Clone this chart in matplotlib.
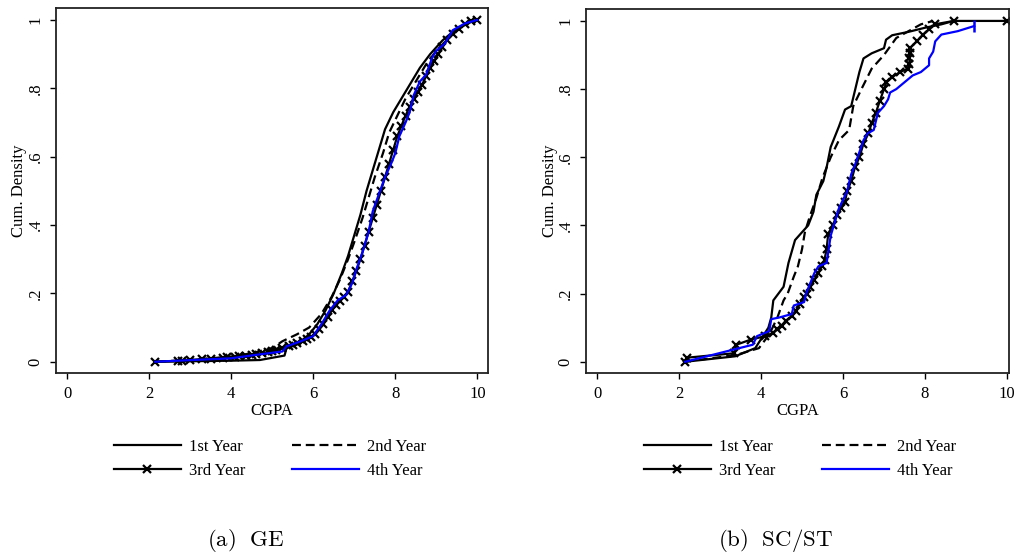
import matplotlib
matplotlib.use("Agg")
import matplotlib.pyplot as plt
from matplotlib.lines import Line2D

plt.rcParams['font.family'] = ['Liberation Serif', 'DejaVu Serif']
plt.rcParams['mathtext.fontset'] = 'cm'

# ---------------- data: GE panel (CGPA, cumulative density) ----------------
ge_y1_x = [2.15, 4.0, 4.7, 5.3, 5.35,
           5.6, 5.9, 6.1, 6.3, 6.5,
           6.7, 6.85, 7.0, 7.15, 7.3,
           7.45, 7.6, 7.75, 7.95, 8.15,
           8.35, 8.6, 8.85, 9.15, 9.45,
           9.75, 10.0]
ge_y1_p = [0.0, 0.003, 0.005, 0.018, 0.04,
           0.05, 0.08, 0.11, 0.15, 0.2,
           0.26, 0.31, 0.37, 0.43, 0.5,
           0.56, 0.62, 0.68, 0.73, 0.77,
           0.81, 0.86, 0.9, 0.94, 0.97,
           0.99, 1.0]

ge_y2_x = [2.2, 3.3, 4.0, 4.5, 5.0,
           5.25, 5.6, 5.9, 6.2, 6.45,
           6.65, 6.85, 7.0, 7.2, 7.35,
           7.5, 7.7, 7.85, 8.05, 8.25,
           8.5, 8.75, 9.0, 9.25, 9.5,
           9.75, 9.9]
ge_y2_p = [0.0, 0.008, 0.015, 0.025, 0.04,
           0.06, 0.08, 0.1, 0.14, 0.19,
           0.24, 0.3, 0.35, 0.42, 0.48,
           0.54, 0.61, 0.67, 0.72, 0.77,
           0.82, 0.87, 0.91, 0.94, 0.97,
           0.99, 1.0]

ge_y3_x = [2.15, 2.7, 2.8, 3.0, 3.3,
           3.5, 3.8, 3.9, 4.1, 4.2,
           4.35, 4.5, 4.6, 4.75, 4.9,
           5.0, 5.1, 5.25, 5.4, 5.5,
           5.6, 5.75, 5.85, 5.95, 6.05,
           6.15, 6.25, 6.35, 6.45, 6.55,
           6.65, 6.75, 6.85, 6.95, 7.05,
           7.15, 7.25, 7.35, 7.45, 7.55,
           7.65, 7.75, 7.85, 7.95, 8.05,
           8.15, 8.25, 8.35, 8.45, 8.55,
           8.65, 8.75, 8.85, 8.95, 9.05,
           9.15, 9.25, 9.4, 9.55, 9.7,
           9.85, 10.0]
ge_y3_p = [0.0, 0.002, 0.003, 0.005, 0.008,
           0.009, 0.012, 0.013, 0.015, 0.016,
           0.018, 0.02, 0.022, 0.025, 0.028,
           0.031, 0.035, 0.04, 0.046, 0.05,
           0.055, 0.062, 0.067, 0.073, 0.08,
           0.095, 0.11, 0.13, 0.15, 0.165,
           0.178, 0.19, 0.205, 0.235, 0.265,
           0.3, 0.34, 0.38, 0.42, 0.46,
           0.5, 0.54, 0.58, 0.62, 0.66,
           0.69, 0.72, 0.745, 0.77, 0.79,
           0.81, 0.835, 0.86, 0.88, 0.9,
           0.92, 0.94, 0.96, 0.975, 0.988,
           0.996, 1.0]

ge_y4_x = [2.15, 4.0, 4.6, 5.25, 5.35,
           5.7, 6.0, 6.2, 6.4, 6.6,
           6.8, 6.95, 7.05, 7.2, 7.35,
           7.45, 7.6, 7.75, 7.9, 8.0,
           8.1, 8.25, 8.35, 8.45, 8.6,
           8.75, 8.9, 9.0, 9.2, 9.4,
           9.7, 10.0]
ge_y4_p = [0.0, 0.01, 0.02, 0.03, 0.045,
           0.06, 0.075, 0.11, 0.15, 0.18,
           0.195, 0.23, 0.27, 0.32, 0.38,
           0.44, 0.49, 0.54, 0.58, 0.61,
           0.66, 0.7, 0.73, 0.78, 0.82,
           0.84, 0.89, 0.91, 0.93, 0.97,
           0.99, 1.0]

# ---------------- data: SC/ST panel ----------------
sc_y1_x = [2.15, 3.37, 3.86, 4.18, 4.25,
           4.3, 4.55, 4.67, 4.83, 5.0,
           5.15, 5.28, 5.35, 5.52, 5.6,
           5.7, 5.9, 6.05, 6.2, 6.3,
           6.4, 6.5, 6.7, 7.0, 7.05,
           7.2, 7.6, 8.0, 8.4, 8.7]
sc_y1_p = [0.0, 0.016, 0.04, 0.1, 0.13,
           0.18, 0.22, 0.29, 0.357, 0.38,
           0.40, 0.44, 0.49, 0.53, 0.57,
           0.63, 0.69, 0.74, 0.75, 0.80,
           0.85, 0.89, 0.905, 0.92, 0.945,
           0.958, 0.968, 0.98, 0.99, 1.0]

sc_y2_x = [2.15, 3.4, 3.95, 4.2, 4.4,
           4.55, 4.65, 4.8, 4.9, 5.0,
           5.07, 5.2, 5.35, 5.5, 5.7,
           5.9, 6.15, 6.25, 6.45, 6.7,
           7.0, 7.3, 7.6, 7.9, 8.2]
sc_y2_p = [0.0, 0.02, 0.04, 0.08, 0.13,
           0.18, 0.2, 0.25, 0.28, 0.33,
           0.38, 0.43, 0.48, 0.54, 0.6,
           0.65, 0.68, 0.75, 0.8, 0.86,
           0.9, 0.95, 0.97, 0.99, 1.0]

sc_y3_x = [2.15, 2.2, 3.35, 3.4, 3.75,
           4.1, 4.3, 4.4, 4.5, 4.6,
           4.75, 4.85, 4.95, 5.05, 5.11,
           5.2, 5.3, 5.4, 5.48, 5.55,
           5.6, 5.64, 5.75, 5.85, 5.95,
           6.05, 6.1, 6.2, 6.29, 6.4,
           6.5, 6.62, 6.7, 6.8, 6.9,
           7.0, 7.06, 7.2, 7.39, 7.59,
           7.62, 7.62, 7.63, 7.63, 7.8,
           7.95, 8.1, 8.24, 8.7, 10.0]
sc_y3_p = [0.0, 0.012, 0.025, 0.05, 0.065,
           0.075, 0.085, 0.095, 0.105, 0.12,
           0.133, 0.15, 0.17, 0.19, 0.2,
           0.22, 0.24, 0.26, 0.28, 0.3,
           0.33, 0.376, 0.4, 0.43, 0.45,
           0.47, 0.5, 0.53, 0.57, 0.6,
           0.64, 0.67, 0.7, 0.73, 0.766,
           0.8, 0.82, 0.835, 0.85, 0.86,
           0.875, 0.89, 0.905, 0.92, 0.94,
           0.96, 0.975, 0.99, 1.0, 1.0]

sc_y4_x = [2.15, 3.8, 3.9, 4.2, 4.25,
           4.45, 4.75, 4.8, 5.05, 5.1,
           5.3, 5.4, 5.6, 5.7, 5.9,
           6.1, 6.2, 6.3, 6.5, 6.6,
           6.75, 6.85, 7.0, 7.1, 7.15,
           7.3, 7.5, 7.7, 7.9, 8.1,
           8.1, 8.2, 8.25, 8.4, 8.8,
           9.2]
sc_y4_p = [0.0, 0.05, 0.075, 0.09, 0.125,
           0.13, 0.14, 0.165, 0.175, 0.2,
           0.26, 0.28, 0.29, 0.37, 0.45,
           0.5, 0.55, 0.58, 0.65, 0.67,
           0.68, 0.73, 0.75, 0.77, 0.79,
           0.8, 0.82, 0.84, 0.85, 0.87,
           0.89, 0.91, 0.94, 0.96, 0.97,
           0.985]

labels = ["1st Year", "2nd Year", "3rd Year", "4th Year"]
yticks = [0, 0.2, 0.4, 0.6, 0.8, 1]
yticklabels = ["0", ".2", ".4", ".6", ".8", "1"]
xticks = [0, 2, 4, 6, 8, 10]

######################## estilo ########################
fs = 12
blue = "#0000ff"
lw = 1.6

fig = plt.figure(figsize=(10.18, 5.55), dpi=100)
ax1 = fig.add_axes([56 / 1018, 1 - 373 / 555, 432 / 1018, 365 / 555])
ax2 = fig.add_axes([586 / 1018, 1 - 373 / 555, 423 / 1018, 364 / 555])


def draw(ax, d1, d2, d3, d4, xmax):
    ax.plot(d1[0], d1[1], color="black", lw=lw)
    ax.plot(d2[0], d2[1], color="black", lw=lw, dashes=(4, 2.2))
    ax.plot(d3[0], d3[1], color="black", lw=lw, marker="x",
            markersize=5.5, markeredgewidth=1.6)
    ax.plot(d4[0], d4[1], color=blue, lw=lw)
    ax.set_xlim(-0.27, xmax)
    ax.set_ylim(-0.033, 1.035)
    ax.set_xticks(xticks)
    ax.set_yticks(yticks)
    ax.set_yticklabels(yticklabels, rotation=90, va="center")
    ax.tick_params(direction="out", length=4, width=1, labelsize=fs,
                   colors="black")
    ax.tick_params(axis="y", pad=5)
    ax.tick_params(axis="x", pad=5)
    for s in ax.spines.values():
        s.set_linewidth(1.3)
        s.set_color("#222222")
    ax.set_xlabel("CGPA", fontsize=fs, labelpad=1)
    ax.set_ylabel("Cum. Density", fontsize=fs, labelpad=0)


draw(ax1, (ge_y1_x, ge_y1_p), (ge_y2_x, ge_y2_p), (ge_y3_x, ge_y3_p),
     (ge_y4_x, ge_y4_p), 10.26)
draw(ax2, (sc_y1_x, sc_y1_p), (sc_y2_x, sc_y2_p), (sc_y3_x, sc_y3_p),
     (sc_y4_x, sc_y4_p), 10.05)
# marca no fim da curva do 4o ano (SC/ST)
ax2.plot(sc_y4_x[-1], sc_y4_p[-1], marker="|", color=blue, markersize=8,
         markeredgewidth=1.8)

# legendas (ordem para ficar 1st/2nd na primeira linha)
handles = [
    Line2D([], [], color="black", lw=lw),
    Line2D([], [], color="black", lw=lw, marker="x", markersize=5.5,
           markeredgewidth=1.6),
    Line2D([], [], color="black", lw=lw, dashes=(4, 2.2)),
    Line2D([], [], color=blue, lw=lw),
]
order = [labels[0], labels[2], labels[1], labels[3]]
for cx in (270 / 1018, 800 / 1018):
    fig.legend(handles, order, ncol=2, loc="center",
               bbox_to_anchor=(cx, 1 - 459 / 555), frameon=False,
               fontsize=fs, handlelength=4.0, handletextpad=0.5,
               columnspacing=2.8, labelspacing=0.5, numpoints=1)

fig.text(246 / 1018, 1 - 541 / 555, r"$\mathrm{(a)\ \ GE}$", fontsize=16.5,
         ha="center", va="center")
fig.text(776 / 1018, 1 - 541 / 555, r"$\mathrm{(b)\ \ SC/ST}$", fontsize=16.5,
         ha="center", va="center")

fig.savefig("out.png", dpi=100)
